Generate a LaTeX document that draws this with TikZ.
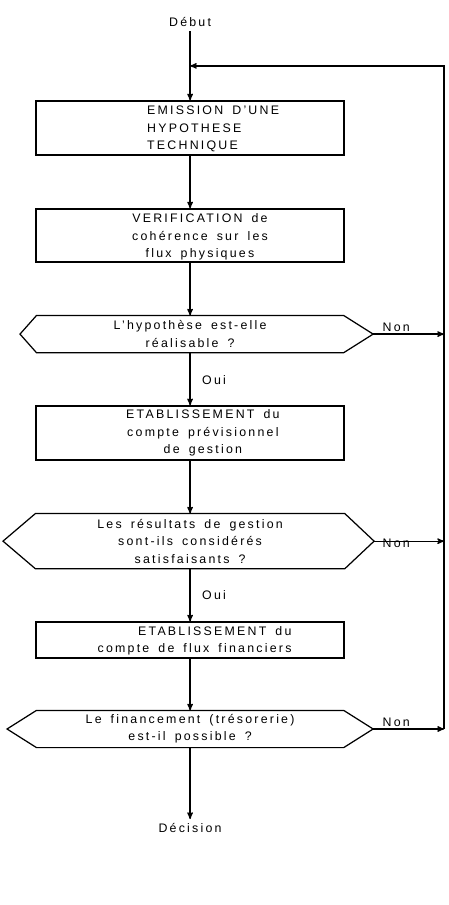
\documentclass[tikz,border=0pt]{standalone}
\usepackage{fontspec}
\setmainfont[LetterSpace=18, WordSpace=1.6]{Liberation Sans}
\usetikzlibrary{positioning, arrows}
\tikzset{
>=stealth', % small filled arrow heads
every node/.style={font=\fontsize{11pt}{15.5pt}\selectfont}, % lettering of the chart
etape/.style={draw, rectangle, minimum width=9.625cm, inner sep=0pt}, % action boxes
test/.style={rectangle, minimum width=9.56cm, inner sep=0pt, align=center}, % text area of a test
}
\begin{document}
\begin{tikzpicture}[-, line width=1.1pt]
    \useasboundingbox (0,0) rectangle (14,-28.28);
    \node at (5.94,-0.69) (debut) {Début};
    \coordinate (join) at (5.94,-2.06);
    \node[etape, minimum height=1.69cm] at (5.94,-4.0) (b1) {};
    \node[align=left] at (6.66,-4.03) (t1) {EMISSION D'UNE\\HYPOTHESE\\TECHNIQUE};
    \node[etape, minimum height=1.66cm] at (5.94,-7.36) (b2) {};
    \node[align=center] at (6.25,-7.41) (t2) {VERIFICATION de\\cohérence sur les\\flux physiques};
    % first test
    \node[test, minimum height=1.125cm] at (5.94,-10.44) (q1) {L'hypothèse est-elle\\réalisable ?};
    \coordinate (q1w) at (0.625,-10.44);
    \coordinate (q1e) at (11.66,-10.44);
    \node at (6.69,-11.875) (oui1) {Oui};
    \node at (12.38,-10.22) (non1) {Non};
    \node[etape, minimum height=1.69cm] at (5.94,-13.53) (b3) {};
    \node[align=center] at (6.34,-13.53) (t3) {ETABLISSEMENT du\\compte prévisionnel\\de gestion};
    % second test
    \node[test, minimum width=9.625cm, minimum height=1.69cm] at (5.94,-16.91) (q2) {Les résultats de gestion\\sont-ils considérés\\satisfaisants ?};
    \coordinate (q2w) at (0.094,-16.91);
    \coordinate (q2e) at (11.69,-16.91);
    \node at (6.69,-18.6) (oui2) {Oui};
    \node at (12.38,-16.97) (non2) {Non};
    \node[etape, minimum height=1.125cm] at (5.94,-20.0) (b4) {};
    \node[align=right] at (6.08,-20.03) (t4) {ETABLISSEMENT du\\compte de flux financiers};
    % third test
    \node[test, minimum height=1.125cm] at (5.94,-22.78) (q3) {Le financement (trésorerie)\\est-il possible ?};
    \coordinate (q3w) at (0.22,-22.78);
    \coordinate (q3e) at (11.66,-22.78);
    \node at (12.38,-22.56) (non3) {Non};
    \node at (5.94,-25.875) (decision) {Décision};
    % return line
    \coordinate (r1) at (13.875,-10.44);
    \coordinate (r2) at (13.875,-16.91);
    \coordinate (r3) at (13.875,-22.78);
    \coordinate (rtop) at (13.875,-2.06);
    \draw (q1.north west) -- (q1.north east) -- (q1e) -- (q1.south east) -- (q1.south west) -- (q1w) -- cycle;
    \draw (q2.north west) -- (q2.north east) -- (q2e) -- (q2.south east) -- (q2.south west) -- (q2w) -- cycle;
    \draw (q3.north west) -- (q3.north east) -- (q3e) -- (q3.south east) -- (q3.south west) -- (q3w) -- cycle;
    \draw[->] (debut) -- (b1);
    \draw[->] (b1) -- (b2);
    \draw[->] (b2) -- (q1);
    \draw[->] (q1) -- (b3);
    \draw[->] (b3) -- (q2);
    \draw[->] (q2) -- (b4);
    \draw[->] (b4) -- (q3);
    \draw[->] (q3) -- (decision);
    \draw[->] (q1e) -- (r1);
    \draw[->] (q2e) -- (r2);
    \draw[->] (q3e) -- (r3);
    \draw[->] (r3) -- (rtop) -- (join);
\end{tikzpicture}
\end{document}
